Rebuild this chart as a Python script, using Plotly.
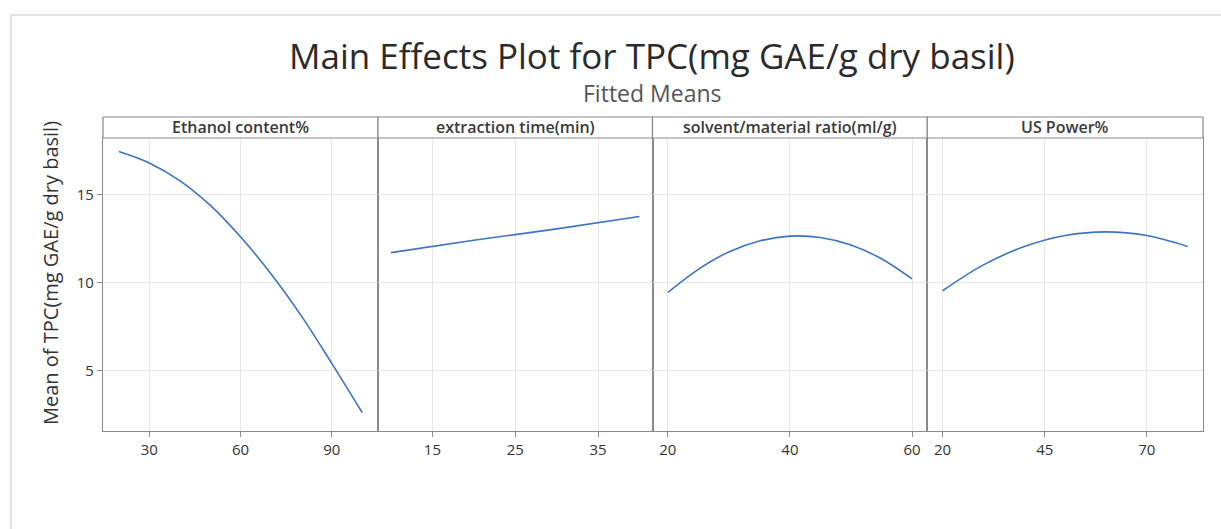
import plotly.graph_objects as go

W, H = 1221, 529

# ---- data ----
ethanol_x = [20, 30, 40, 50, 60, 70, 80, 90, 100]
ethanol_y = [17.45, 16.8, 15.8, 14.4, 12.6, 10.5, 8.1, 5.4, 2.6]

time_x = [10, 20, 30, 40]
time_y = [11.7, 12.4, 13.05, 13.75]

ratio_x = [20, 25, 30, 35, 40, 45, 50, 55, 60]
ratio_y = [9.43, 10.75, 11.74, 12.36, 12.64, 12.56, 12.13, 11.35, 10.2]

power_x = [20, 30, 40, 50, 60, 70, 80]
power_y = [9.53, 11.0, 12.04, 12.67, 12.88, 12.67, 12.05]

panel_titles = ["Ethanol content%", "extraction time(min)",
                "solvent/material ratio(ml/g)", "US Power%"]
x_ticks = [[30, 60, 90], [15, 25, 35], [20, 40, 60], [20, 45, 70]]
x_ranges = [[14.8, 105.2], [8.43, 41.57], [17.5, 62.5], [16.25, 83.75]]
y_ticks = [5, 10, 15]
y_range = [1.55, 18.22]

title = "Main Effects Plot for TPC(mg GAE/g dry basil)"
subtitle = "Fitted Means"
y_title = "Mean of TPC(mg GAE/g dry basil)"

# ---- layout geometry (pixels) ----
px_edges = [103, 378, 652.5, 927.3, 1203]
plot_top, plot_bot = 138, 431
head_top = 117

def fx(px):
    return px / W

def fy(py):
    return 1 - py / H

FONT = "Open Sans"
LINE_BLUE = "#3a74c4"
FRAME = "#8a8a8a"
GRID = "#e6e6e6"
TXT = "#333333"

fig = go.Figure()
series = [(ethanol_x, ethanol_y), (time_x, time_y), (ratio_x, ratio_y), (power_x, power_y)]
for i, (xs, ys) in enumerate(series):
    k = "" if i == 0 else str(i + 1)
    fig.add_trace(go.Scatter(x=xs, y=ys, mode="lines", line=dict(color=LINE_BLUE, width=1.6, shape="spline"),
                             xaxis="x" + k, yaxis="y" + k, showlegend=False, hoverinfo="x+y"))

layout = dict(
    width=W, height=H, margin=dict(l=0, r=0, t=0, b=0),
    paper_bgcolor="white", plot_bgcolor="white",
    font=dict(family=FONT, color=TXT),
    showlegend=False,
)
for i in range(4):
    k = "" if i == 0 else str(i + 1)
    layout["xaxis" + k] = dict(
        domain=[fx(px_edges[i]), fx(px_edges[i + 1])], range=x_ranges[i],
        tickvals=x_ticks[i], ticks="outside", ticklen=5, tickcolor=FRAME,
        showgrid=True, gridcolor=GRID, gridwidth=1, zeroline=False,
        showline=True, linecolor=FRAME, linewidth=1.2, mirror=True,
        tickfont=dict(size=15, color=TXT, family=FONT), anchor="y" + k,
        fixedrange=True,
    )
    ydef = dict(
        domain=[fy(plot_bot), fy(plot_top)], range=y_range, tickvals=y_ticks,
        showgrid=True, gridcolor=GRID, gridwidth=1, zeroline=False,
        showline=True, linecolor=FRAME, linewidth=1.2, mirror=True,
        anchor="x" + k, fixedrange=True,
    )
    if i == 0:
        ydef.update(ticks="outside", ticklen=5, tickcolor=FRAME,
                    tickfont=dict(size=15, color=TXT, family=FONT))
    else:
        ydef.update(showticklabels=False, ticks="", matches="y")
    layout["yaxis" + k] = ydef

shapes = []
annotations = []
for i in range(4):
    shapes.append(dict(type="rect", xref="paper", yref="paper",
                       x0=fx(px_edges[i]), x1=fx(px_edges[i + 1]), y0=fy(plot_top), y1=fy(head_top),
                       line=dict(color=FRAME, width=1.2), fillcolor="white"))
    annotations.append(dict(text=panel_titles[i], xref="paper", yref="paper",
                            x=fx((px_edges[i] + px_edges[i + 1]) / 2), y=fy((head_top + plot_top) / 2),
                            xanchor="center", yanchor="middle", showarrow=False,
                            font=dict(size=16, color="#3a3a3a", family=FONT, weight=600)))
# faint page border
shapes.append(dict(type="line", xref="paper", yref="paper", x0=fx(11), x1=1, y0=fy(15), y1=fy(15),
                   line=dict(color="#e2e2e2", width=2)))
shapes.append(dict(type="line", xref="paper", yref="paper", x0=fx(11), x1=fx(11), y0=fy(15), y1=0,
                   line=dict(color="#e2e2e2", width=2)))

annotations.append(dict(text=title, xref="paper", yref="paper", x=fx(652), y=fy(55),
                        xanchor="center", yanchor="middle", showarrow=False,
                        font=dict(size=35, color="#2b2b2b", family=FONT)))
annotations.append(dict(text=subtitle, xref="paper", yref="paper", x=fx(652), y=fy(93),
                        xanchor="center", yanchor="middle", showarrow=False,
                        font=dict(size=23, color="#555555", family=FONT)))
annotations.append(dict(text=y_title, xref="paper", yref="paper", x=fx(50), y=fy(273),
                        xanchor="center", yanchor="middle", showarrow=False, textangle=-90,
                        font=dict(size=20, color=TXT, family=FONT)))
layout["shapes"] = shapes
layout["annotations"] = annotations
fig.update_layout(**layout)
fig.write_html("out.html")
